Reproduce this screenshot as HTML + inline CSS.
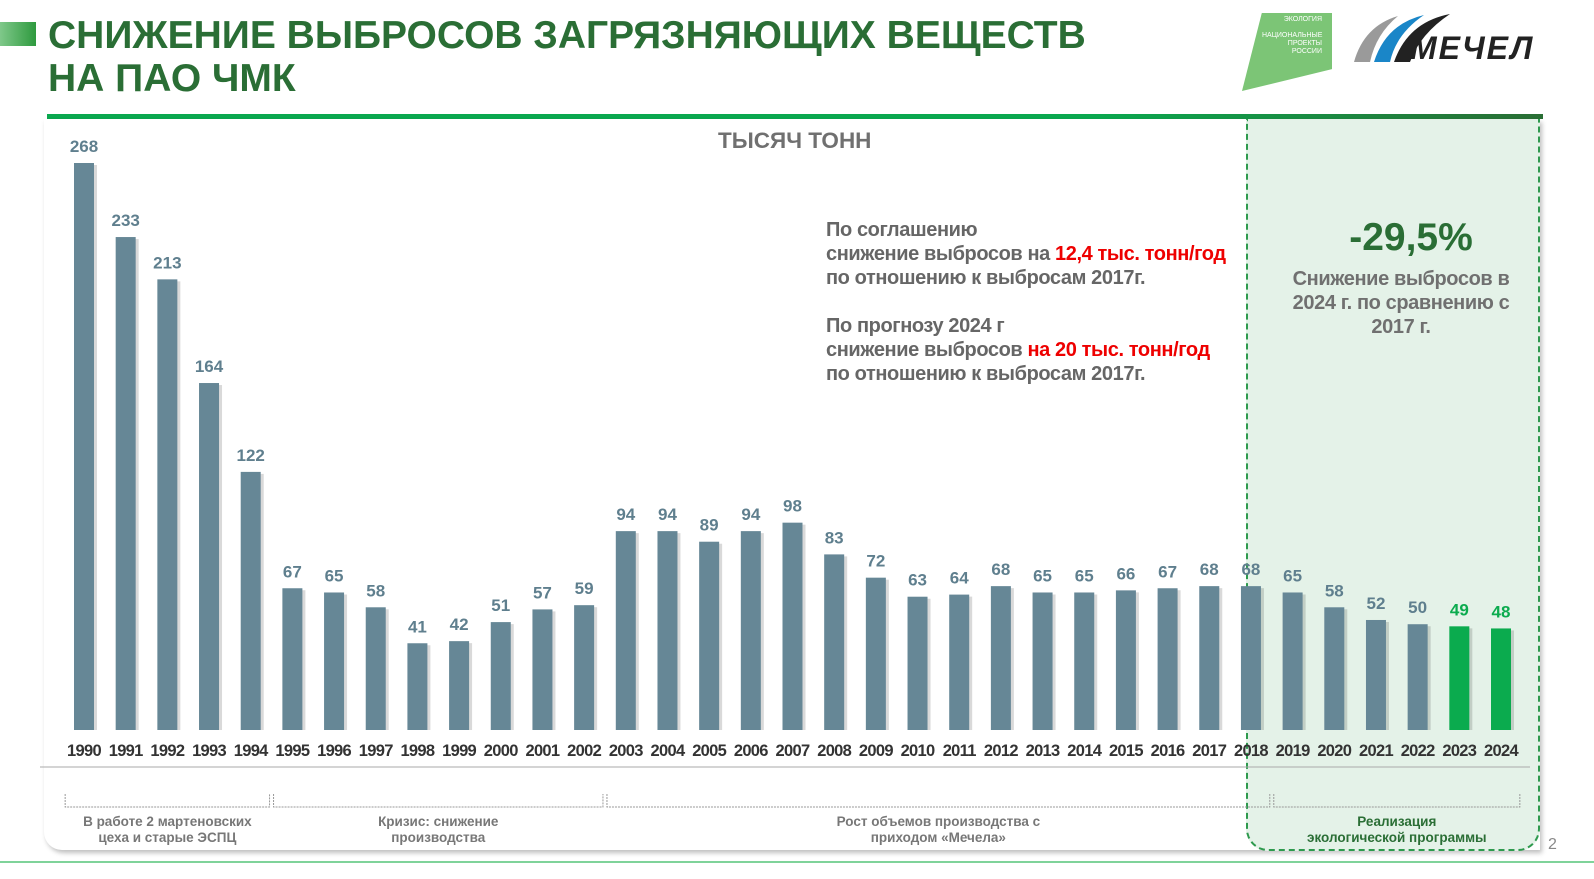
<!DOCTYPE html>
<html><head><meta charset="utf-8">
<style>
body{margin:0;width:1594px;height:879px;background:#fff;font-family:"Liberation Sans",sans-serif;overflow:hidden;position:relative}
.t{position:absolute;font-weight:bold;white-space:nowrap}
</style></head>
<body>
<div style="position:absolute;left:0;top:22px;width:36px;height:24px;background:linear-gradient(90deg,#7fc88a,#2e9a3e)"></div>
<div class="t" style="left:48px;top:14px;font-size:39px;line-height:43px;color:#2a6e35">СНИЖЕНИЕ ВЫБРОСОВ ЗАГРЯЗНЯЮЩИХ ВЕЩЕСТВ<br>НА ПАО ЧМК</div>
<div style="position:absolute;left:1242px;top:13px;width:90px;height:78px;background:#7cc576;clip-path:polygon(22% 0,100% 0,100% 72%,0 100%)"></div>
<div class="t" style="left:1262px;top:16px;font-size:7px;line-height:8px;color:#fff;text-align:right;width:60px;font-weight:normal">ЭКОЛОГИЯ<br><br>НАЦИОНАЛЬНЫЕ<br>ПРОЕКТЫ<br>РОССИИ</div>
<svg style="position:absolute;left:1352px;top:12px" width="190" height="52">
<path d="M2 50 Q12 14 46 4 Q24 22 18 50Z" fill="#9a9a9a"/>
<path d="M22 50 Q34 12 72 3 Q44 22 38 50Z" fill="#1a86c8"/>
<path d="M42 50 Q56 10 98 2 Q68 22 58 50Z" fill="#222"/>
<text x="58" y="47" font-family="Liberation Sans" font-weight="bold" font-style="italic" font-size="32" fill="#222" letter-spacing="2">МЕЧЕЛ</text>
</svg>
<div style="position:absolute;left:47px;top:114px;width:1496px;height:5px;background:linear-gradient(90deg,#0aa84f,#0aa84f 70%,#2a6e35)"></div>
<div style="position:absolute;left:44px;top:119px;width:1496px;height:731px;border-radius:0 0 0 18px;box-shadow:2px 3px 5px rgba(0,0,0,0.25);background:#fff"></div>
<div style="position:absolute;left:1246px;top:119px;width:294px;height:732px;background:#e4f2e8;border:2px dashed #2e9a4e;border-top:none;border-radius:0 0 22px 22px;box-sizing:border-box"></div>
<div style="position:absolute;left:0;top:861px;width:1594px;height:2px;background:#7fd39a"></div>
<div class="t" style="left:1548px;top:836px;font-size:16px;color:#888;font-weight:normal">2</div>
<div class="t" style="left:718px;top:128px;font-size:22.5px;color:#707070">ТЫСЯЧ ТОНН</div>
<div class="t" style="left:826px;top:218px;font-size:20px;line-height:24px;color:#666;letter-spacing:-0.4px">По соглашению<br>снижение выбросов на <span style="color:#e00">12,4 тыс. тонн/год</span><br>по отношению к выбросам 2017г.<br><br>По прогнозу 2024 г<br>снижение выбросов <span style="color:#e00">на 20 тыс. тонн/год</span><br>по отношению к выбросам 2017г.</div>
<div class="t" style="left:1246px;top:216px;width:330px;text-align:center;font-size:39px;color:#2a6e35">-29,5%</div>
<div class="t" style="left:1256px;top:267px;width:290px;text-align:center;font-size:20px;line-height:24px;color:#707070;letter-spacing:-0.4px">Снижение выбросов в<br>2024 г. по сравнению с<br>2017 г.</div>
<svg id="chart" style="position:absolute;left:0;top:0" width="1594" height="879"></svg>
<script>
const years=[1990,1991,1992,1993,1994,1995,1996,1997,1998,1999,2000,2001,2002,2003,2004,2005,2006,2007,2008,2009,2010,2011,2012,2013,2014,2015,2016,2017,2018,2019,2020,2021,2022,2023,2024];
const values=[268,233,213,164,122,67,65,58,41,42,51,57,59,94,94,89,94,98,83,72,63,64,68,65,65,66,67,68,68,65,58,52,50,49,48];
const highlighted=[2023,2024];
const periods=[["В работе 2 мартеновских","цеха и старые ЭСПЦ",1990,1994],["Кризис: снижение","производства",1995,2002],["Рост объемов производства с","приходом «Мечела»",2003,2018],["Реализация","экологической программы",2019,2024]];
const NS="http://www.w3.org/2000/svg";
const svg=document.getElementById('chart');
const x0=84,step=(1501-84)/34,base=730,k=(730-163)/268,bw=20;
const X=i=>x0+i*step, Y=v=>base-v*k;
function mk(t,a){const e=document.createElementNS(NS,t);for(const n in a)e.setAttribute(n,a[n]);svg.appendChild(e);return e;}
years.forEach((yr,i)=>{
 const v=values[i],hl=highlighted.includes(yr);
 const sh=mk('rect',{x:X(i)-bw/2+3,y:Y(v)+2,width:bw,height:base-Y(v)-2,fill:'#000',opacity:0.15});
 
 
 const r=mk('rect',{x:X(i)-bw/2,y:Y(v),width:bw,height:base-Y(v),fill:hl?'#0bab4e':'#668796'});
 
 
 const t=mk('text',{x:X(i),y:Y(v)-11,'text-anchor':'middle','font-size':17,'font-weight':'bold',fill:hl?'#0bab4e':'#5f7f8e','font-family':'Liberation Sans'});
 t.textContent=v;
 
 
 const l=mk('text',{x:X(i),y:756,'text-anchor':'middle','font-size':16.5,'font-weight':'bold',fill:'#333','font-family':'Liberation Sans','letter-spacing':'-0.7'});
 l.textContent=yr;
 
 
});
const ln=mk('line',{x1:40,x2:1530,y1:767,y2:767,stroke:'#aaa','stroke-width':1});


periods.forEach(p=>{
 const a=X(years.indexOf(p[2]))-step/2+2,b=X(years.indexOf(p[3]))+step/2-2;
 const br=mk('path',{d:`M${a} 794 V807 H${b} V794`,fill:'none',stroke:'#999','stroke-width':1,'stroke-dasharray':'2 1'});
 
 
 const c=(a+b)/2;const green=p[3]===2024;
 [p[0],p[1]].forEach((s,j)=>{
  const t=mk('text',{x:c,y:826+j*16,'text-anchor':'middle','font-size':13.5,'font-weight':'bold',fill:green?'#2a6e35':'#777','font-family':'Liberation Sans'});
  t.textContent=s;
  
  
 });
});
</script>
</body></html>
